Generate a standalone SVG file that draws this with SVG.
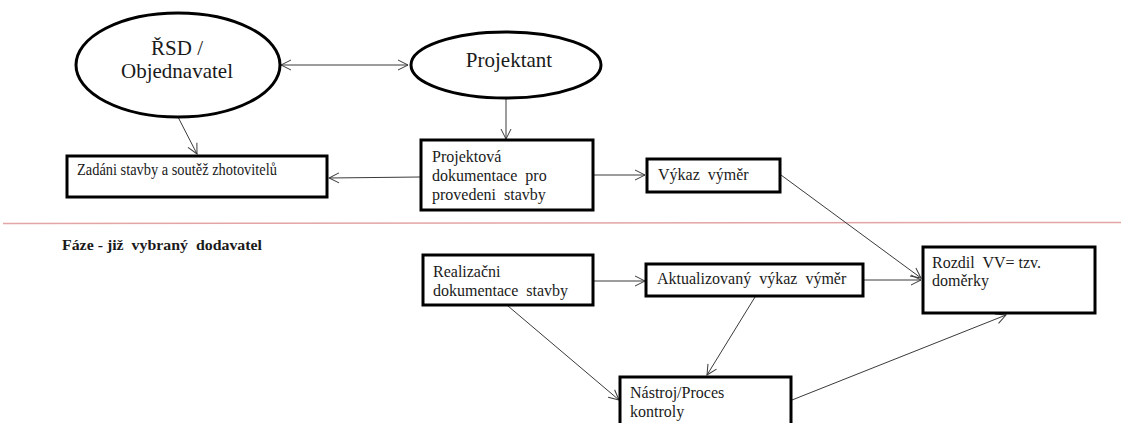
<svg xmlns="http://www.w3.org/2000/svg" width="1121" height="423" viewBox="0 0 1121 423">
<style>
.node{fill:#fff;stroke:#000;stroke-width:3}
.t{font-family:"Liberation Serif","Times New Roman",serif;font-size:16px;fill:#1a1a1a}
.te{font-family:"Liberation Serif","Times New Roman",serif;font-size:21px;fill:#1a1a1a;text-anchor:middle}
.c{stroke:#3a3a3a;stroke-width:1;fill:none}
</style>
<defs>
<marker id="a" viewBox="0 0 12 12" refX="11" refY="6" markerWidth="12" markerHeight="12" markerUnits="userSpaceOnUse" orient="auto-start-reverse">
<path d="M1,1 L11,6 L1,11" fill="none" stroke="#3a3a3a" stroke-width="1"/>
</marker>
</defs>
<rect width="1121" height="423" fill="#fff"/>
<line x1="3" y1="223.5" x2="1121" y2="222.5" stroke="#e3a5a5" stroke-width="1.5"/>
<text x="62" y="250" class="t" style="font-weight:bold;font-size:15px" textLength="200" lengthAdjust="spacingAndGlyphs" xml:space="preserve">Fáze - již  vybraný  dodavatel</text>
<g id="connectors">
<line class="c" x1="281" y1="65" x2="408" y2="65" marker-start="url(#a)" marker-end="url(#a)"/>
<line class="c" x1="178" y1="117" x2="197" y2="154" marker-end="url(#a)"/>
<line class="c" x1="506" y1="98" x2="506" y2="139" marker-end="url(#a)"/>
<line class="c" x1="420" y1="177" x2="329" y2="178" marker-end="url(#a)"/>
<line class="c" x1="594" y1="175" x2="645" y2="175" marker-end="url(#a)"/>
<line class="c" x1="781" y1="175" x2="921" y2="278" marker-end="url(#a)"/>
<line class="c" x1="594" y1="281" x2="645" y2="281" marker-end="url(#a)"/>
<line class="c" x1="864" y1="280" x2="921" y2="280" marker-end="url(#a)"/>
<line class="c" x1="508" y1="306" x2="619" y2="400" marker-end="url(#a)"/>
<line class="c" x1="755" y1="297" x2="707" y2="375" marker-end="url(#a)"/>
<line class="c" x1="792" y1="400" x2="1006" y2="315" marker-end="url(#a)"/>
</g>
<g id="rsd">
<ellipse class="node" cx="178" cy="65" rx="102" ry="52"/>
<text class="te" x="177" y="55">ŘSD /</text>
<text class="te" x="177" y="78">Objednavatel</text>
</g>
<g id="projektant">
<ellipse class="node" cx="506" cy="65" rx="95" ry="33"/>
<text class="te" x="509" y="67">Projektant</text>
</g>
<g id="zadani">
<rect class="node" x="67" y="156" width="260" height="41"/>
<text class="t" x="0" y="0" transform="translate(77,175) scale(0.9,1)">Zadáni stavby a soutěž zhotovitelů</text>
</g>
<g id="projektova">
<rect class="node" x="421" y="140" width="172" height="70"/>
<text class="t" x="432" y="162">Projektová</text>
<text class="t" x="432" y="181" xml:space="preserve">dokumentace  pro</text>
<text class="t" x="432" y="200" xml:space="preserve">provedeni  stavby</text>
</g>
<g id="vykaz">
<rect class="node" x="647" y="159" width="133" height="33"/>
<text class="t" x="658" y="180" xml:space="preserve">Výkaz  výměr</text>
</g>
<g id="realizacni">
<rect class="node" x="423" y="255" width="170" height="50"/>
<text class="t" x="433" y="277">Realizačni</text>
<text class="t" x="433" y="296" xml:space="preserve">dokumentace  stavby</text>
</g>
<g id="aktualizovany">
<rect class="node" x="646" y="264" width="217" height="32"/>
<text class="t" x="657" y="284" xml:space="preserve">Aktualizovaný  výkaz  výměr</text>
</g>
<g id="rozdil">
<rect class="node" x="923" y="247" width="172" height="66"/>
<text class="t" x="932" y="268" xml:space="preserve">Rozdil  VV= tzv.</text>
<text class="t" x="932" y="286">doměrky</text>
</g>
<g id="nastroj">
<rect class="node" x="620" y="377" width="171" height="60"/>
<text class="t" x="630" y="398">Nástroj/Proces</text>
<text class="t" x="630" y="417">kontroly</text>
</g>
</svg>
